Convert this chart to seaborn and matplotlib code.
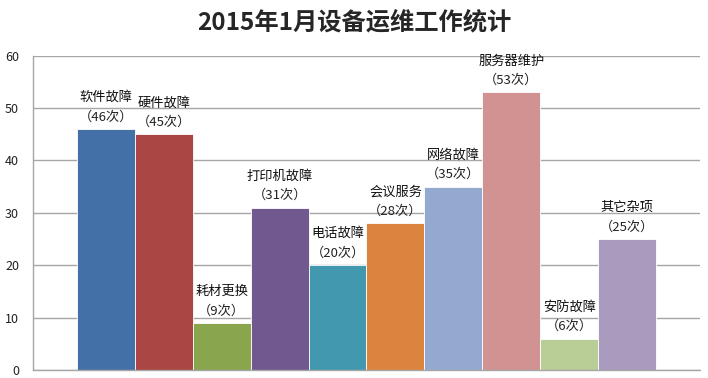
import pandas as pd
import seaborn as sns
import matplotlib.pyplot as plt

# 数据
categories = ['软件故障', '硬件故障', '耗材更换', '打印机故障', '电话故障',
              '会议服务', '网络故障', '服务器维护', '安防故障', '其它杂项']
counts = [46, 45, 9, 31, 20, 28, 35, 53, 6, 25]
colors = ['#4470A8', '#AA4643', '#89A54E', '#71588F', '#4198AF',
          '#DB843D', '#93A9CF', '#D19392', '#B9CD96', '#A99BBD']
yticks = [0, 10, 20, 30, 40, 50, 60]

df = pd.DataFrame({'cat': categories, 'n': counts})

sns.set_style('white')
plt.rcParams['font.family'] = ['Noto Sans CJK SC', 'DejaVu Sans']

fig = plt.figure(figsize=(7.08, 3.78), dpi=100)
ax = fig.add_axes([0.0466, 0.0212, 0.9421, 0.8314])

sns.barplot(data=df, x='cat', y='n', hue='cat', palette=colors, legend=False,
            width=1.0, saturation=1, edgecolor='white', linewidth=0.6, ax=ax)

ax.set_xlim(-1.26, 10.26)
ax.set_ylim(0, 60)
ax.set_yticks(yticks)
ax.set_xticks([])
ax.set_xlabel('')
ax.set_ylabel('')
ax.yaxis.grid(True, color='#A6A6A6', linewidth=1)
ax.set_axisbelow(True)
ax.tick_params(axis='y', length=0, pad=10, labelsize=9, colors='#222222')
for s in ['top', 'right']:
    ax.spines[s].set_visible(False)
for s in ['left', 'bottom']:
    ax.spines[s].set_color('#A6A6A6')
    ax.spines[s].set_linewidth(1)

# 柱顶标签
for i, (c, v) in enumerate(zip(categories, counts)):
    ax.annotate(f'（{v}次）', (i, v), xytext=(0, 4), textcoords='offset points',
                ha='center', va='bottom', fontsize=9.5, color='#222222',
                annotation_clip=False)
    ax.annotate(c, (i, v), xytext=(0, 18), textcoords='offset points',
                ha='center', va='bottom', fontsize=9.5, color='#111111',
                annotation_clip=False)

fig.text(0.5, 0.94, '2015年1月设备运维工作统计', ha='center', va='center',
         fontsize=17.5, fontweight='bold')

fig.savefig('out.png', dpi=100)
